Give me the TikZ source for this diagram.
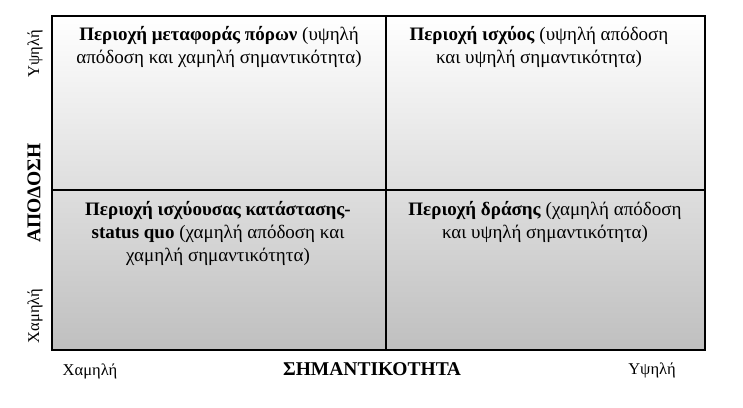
\documentclass[tikz,border=0pt]{standalone}
\usepackage{fontspec}
\setmainfont{Liberation Serif}
\tikzset{
	quadtext/.style={anchor=north,align=center,inner sep=0pt},
	axislabel/.style={inner sep=0pt,font=\fontsize{16.5}{18}\selectfont},
	axistitle/.style={inner sep=0pt,font=\fontsize{19.5}{22}\selectfont\bfseries},
}
\begin{document}
\begin{tikzpicture}[x=1pt,y=-1pt,font=\fontsize{19}{23}\selectfont]
		\useasboundingbox (0,0) rectangle (743,407);
		\coordinate (NW) at (52,16);
		\coordinate (N) at (386,16);
		\coordinate (W) at (52,190);
		\coordinate (E) at (705,190);
		\coordinate (S) at (386,350);
		\coordinate (SE) at (705,350);
		\shade [top color=white,bottom color=gray!50] (NW) rectangle (SE);
		\draw [line width=1.3] (W) to (E);
		\draw [line width=2] (N) to (S);
		\draw [line width=2] (NW) rectangle (SE);
		\node [quadtext] (resources) at (219,26.5) {\textbf{Περιοχή μεταφοράς πόρων} (υψηλή\\απόδοση και χαμηλή σημαντικότητα)};
		\node [quadtext] (power) at (539,26.5) {\textbf{Περιοχή ισχύος} (υψηλή απόδοση\\και υψηλή σημαντικότητα)};
		\node [quadtext] (statusquo) at (218,201) {\textbf{Περιοχή ισχύουσας κατάστασης-}\\\textbf{status quo} (χαμηλή απόδοση και\\χαμηλή σημαντικότητα)};
		\node [quadtext] (action) at (545,201) {\textbf{Περιοχή δράσης} (χαμηλή απόδοση\\και υψηλή σημαντικότητα)};
		\node [axislabel,rotate=90] (perfhigh) at (35,54) {Υψηλή};
		\node [axistitle,rotate=90] (perf) at (34,193) {ΑΠΟΔΟΣΗ};
		\node [axislabel,rotate=90] (perflow) at (35,316) {Χαμηλή};
		\node [axislabel] (implow) at (90,371) {Χαμηλή};
		\node [axistitle] (imp) at (372,369) {ΣΗΜΑΝΤΙΚΟΤΗΤΑ};
		\node [axislabel] (imphigh) at (652,370) {Υψηλή};
	\end{tikzpicture}
\end{document}
